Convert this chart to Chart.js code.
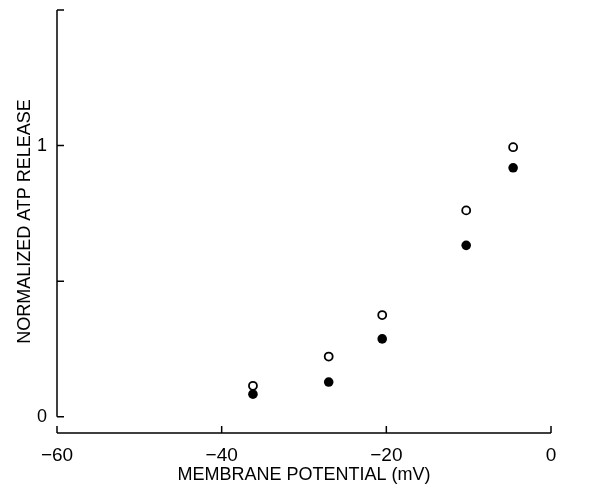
<!DOCTYPE html>
<html>
<head>
<meta charset="utf-8">
<script src="https://cdn.jsdelivr.net/npm/chart.js@4"></script>
<style>
  html, body { margin: 0; padding: 0; background: #fff; }
  #wrap { width: 603px; height: 489px; }
</style>
</head>
<body>
<div id="wrap"><canvas id="atpChart"></canvas></div>
<script>
// data
let potential = [-36.2, -27.0, -20.5, -10.3, -4.6];
let openRelease = [0.114, 0.222, 0.375, 0.761, 0.994];
let filledRelease = [0.083, 0.128, 0.287, 0.632, 0.918];

let xTicks = [-60, -40, -20, 0];
let yTicks = [0, 0.5, 1, 1.5];
let yLabelled = [0, 1];

let font = "'Liberation Sans', Arial, sans-serif";

function toPoints(ys) {
    return potential.map(function (x, i) { return { x: x, y: ys[i] }; });
}

// axes drawn inward like the original plot, y axis stops at 0
let axesPlugin = {
    id: "inwardAxes",
    afterDraw: function (chart) {
        let ctx = chart.ctx;
        let xs = chart.scales.x;
        let ys = chart.scales.y;
        let tick = 7;
        ctx.save();
        ctx.strokeStyle = "#000";
        ctx.lineWidth = 1.5;

        let left = xs.getPixelForValue(-60);
        let y0 = ys.getPixelForValue(0);
        let yTop = ys.getPixelForValue(1.5);
        ctx.beginPath();
        ctx.moveTo(left, yTop);
        ctx.lineTo(left, y0);
        ys.ticks.forEach(function (t) {
            let py = ys.getPixelForValue(t.value);
            ctx.moveTo(left, py);
            ctx.lineTo(left + tick, py);
        });

        let bottom = chart.chartArea.bottom;
        ctx.moveTo(xs.getPixelForValue(-60), bottom);
        ctx.lineTo(xs.getPixelForValue(0), bottom);
        xs.ticks.forEach(function (t) {
            let px = xs.getPixelForValue(t.value);
            ctx.moveTo(px, bottom);
            ctx.lineTo(px, bottom - tick);
        });
        ctx.stroke();
        ctx.restore();
    }
};

new Chart(document.getElementById("atpChart"), {

    type: "scatter",

    data: {
        datasets: [{
            label: "filled",
            data: toPoints(filledRelease),
            pointRadius: 4.8,
            pointBackgroundColor: "#000",
            pointBorderColor: "#000",
            pointBorderWidth: 0
        }, {
            label: "open",
            data: toPoints(openRelease),
            pointRadius: 4,
            pointBackgroundColor: "#fff",
            pointBorderColor: "#000",
            pointBorderWidth: 1.8
        }]
    },

    options: {
        responsive: true,
        maintainAspectRatio: false,
        animation: false,
        layout: { padding: { left: 12, right: 52, top: 10, bottom: 0 } },
        plugins: {
            legend: { display: false },
            tooltip: { enabled: false }
        },
        scales: {
            x: {
                type: "linear",
                min: -60,
                max: 0,
                afterBuildTicks: function (scale) {
                    scale.ticks = xTicks.map(function (v) { return { value: v }; });
                },
                afterFit: function (scale) { scale.height = 56; },
                grid: { display: false, drawTicks: false },
                border: { display: false },
                ticks: {
                    color: "#000",
                    padding: 11,
                    maxRotation: 0,
                    font: { family: font, size: 19 },
                    callback: function (v) { return v < 0 ? "\u2212" + Math.abs(v) : String(v); }
                },
                title: {
                    display: true,
                    text: "MEMBRANE POTENTIAL (mV)",
                    color: "#000",
                    padding: { top: 0, bottom: 3 },
                    font: { family: font, size: 18 }
                }
            },
            y: {
                type: "linear",
                min: -0.06,
                max: 1.5,
                afterBuildTicks: function (scale) {
                    scale.ticks = yTicks.map(function (v) { return { value: v }; });
                },
                afterFit: function (scale) {
                    scale.width = 45;
                    scale.paddingTop = 0;
                    scale.paddingBottom = 0;
                },
                grid: { display: false, drawTicks: false },
                border: { display: false },
                ticks: {
                    color: "#000",
                    padding: 10,
                    font: { family: font, size: 18 },
                    callback: function (v) { return yLabelled.indexOf(v) >= 0 ? String(v) : ""; }
                },
                title: {
                    display: true,
                    text: "NORMALIZED ATP RELEASE",
                    color: "#000",
                    padding: { top: 2, bottom: 0 },
                    font: { family: font, size: 18 }
                }
            }
        }
    },

    plugins: [axesPlugin]

});
</script>
</body>
</html>
